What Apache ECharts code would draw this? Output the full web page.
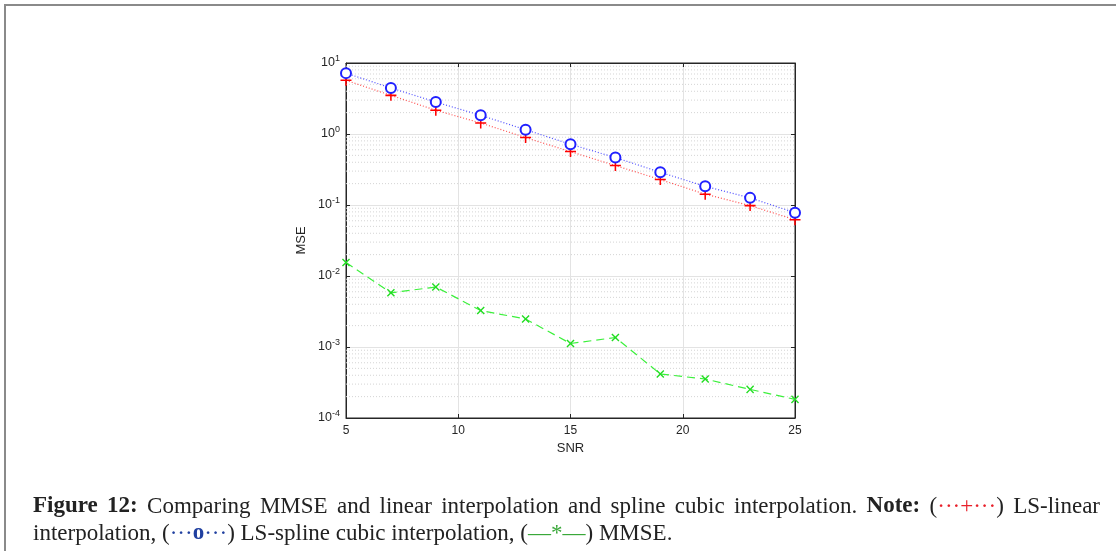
<!DOCTYPE html>
<html>
<head>
<meta charset="utf-8">
<script src="https://cdn.jsdelivr.net/npm/echarts@6/dist/echarts.min.js"></script>
<style>
  html, body { margin: 0; padding: 0; background: #fff; }
  #chart { width: 1116px; height: 551px; }
</style>
</head>
<body>
<div id="chart"></div>
<script>
// SNR values (x axis)
const snr = [5, 7, 9, 11, 13, 15, 17, 19, 21, 23, 25];
// LS-linear interpolation
const lsLinear = [5.7, 3.5, 2.16, 1.43, 0.89, 0.565, 0.359, 0.228, 0.142, 0.098, 0.062];
// LS-spline cubic interpolation
const lsSpline = [7.2, 4.45, 2.82, 1.83, 1.15, 0.716, 0.466, 0.289, 0.183, 0.126, 0.078];
// MMSE
const mmse = [0.0155, 0.0058, 0.0070, 0.00326, 0.00248, 0.00112, 0.00136, 0.000417, 0.000354, 0.000253, 0.000183];

const decades = [-4, -3, -2, -1, 0];

// minor grid values 2..9 x 10^k (log axis gridlines)
const minorVals = [];
decades.forEach(function (e) {
  for (let m = 2; m <= 9; m++) minorVals.push(m * Math.pow(10, e));
});

const pair = (xs, ys) => xs.map((x, i) => [x, ys[i]]);

const plusPath = 'path://M4.3,0H5.7V4.3H10V5.7H5.7V10H4.3V5.7H0V4.3H4.3Z';

const axisColor = '#262626';
const labelFont = 'Liberation Sans, Arial, sans-serif';
const serif = '"Liberation Serif", "Times New Roman", serif';
const capSize = 23;

// caption line 1 (justified), tokens made of styled parts
const caption1 = [
  [{ t: 'Figure', b: 1 }], [{ t: '12:', b: 1 }], [{ t: 'Comparing' }], [{ t: 'MMSE' }], [{ t: 'and' }],
  [{ t: 'linear' }], [{ t: 'interpolation' }], [{ t: 'and' }], [{ t: 'spline' }], [{ t: 'cubic' }],
  [{ t: 'interpolation.' }], [{ t: 'Note:', b: 1 }],
  [{ t: '(' }, { t: '\u00b7\u00b7\u00b7+\u00b7\u00b7\u00b7', c: '#e8202a' }, { t: ')' }], [{ t: 'LS-linear' }]
];
const caption2 = [
  { t: 'interpolation, (' },
  { t: '\u00b7\u00b7\u00b7', c: '#2040a0' }, { t: 'o', c: '#2040a0', b: 1 }, { t: '\u00b7\u00b7\u00b7', c: '#2040a0' },
  { t: ') LS-spline cubic interpolation, (' },
  { t: '\u2014', c: '#3aa83a' }, { t: '*', c: '#3aa83a' }, { t: '\u2014', c: '#3aa83a' },
  { t: ') MMSE.' }
];

const ctx = document.createElement('canvas').getContext('2d');
function partFont(p) { return (p.b ? 'bold ' : '') + capSize + 'px ' + serif; }
function measure(parts) {
  return parts.reduce((s, p) => { ctx.font = partFont(p); return s + ctx.measureText(p.t).width; }, 0);
}
function richOf(parts) {
  const rich = {};
  let text = '';
  parts.forEach((p, i) => {
    const key = 'p' + i;
    rich[key] = { fontSize: capSize, fontFamily: serif, fontWeight: p.b ? 'bold' : 'normal', fill: p.c || '#222' };
    text += '{' + key + '|' + p.t + '}';
  });
  return { text, rich };
}

const capLeft = 33, capRight = 1100;
const widths = caption1.map(measure);
const gap = (capRight - capLeft - widths.reduce((a, b) => a + b, 0)) / (caption1.length - 1);
const captionGraphics = [];
let cx = capLeft;
caption1.forEach((parts, i) => {
  const r = richOf(parts);
  captionGraphics.push({
    type: 'text', x: cx, y: 495, silent: true,
    style: { text: r.text, rich: r.rich, font: capSize + 'px ' + serif, fill: '#222' }
  });
  cx += widths[i] + gap;
});
const r2 = richOf(caption2);
captionGraphics.push({
  type: 'text', x: capLeft, y: 522, silent: true,
  style: { text: r2.text, rich: r2.rich, font: capSize + 'px ' + serif, fill: '#222' }
});

const gridSeries = minorVals.map(v => ({
  type: 'line', data: [[5, v], [25, v]], silent: true, symbol: 'none',
  lineStyle: { color: '#d4d4d4', type: [1, 2], width: 1 }, z: 1
}));

const chart = echarts.init(document.getElementById('chart'));

chart.setOption({
  animation: false,
  backgroundColor: '#fff',
  grid: {
    left: 346, right: 321, top: 63, bottom: 133,
    show: true, borderColor: axisColor, borderWidth: 1
  },
  xAxis: [
    {
      type: 'value', min: 5, max: 25, interval: 5,
      name: 'SNR', nameLocation: 'middle', nameGap: 22,
      nameTextStyle: { color: axisColor, fontSize: 13, fontFamily: labelFont },
      axisLine: { lineStyle: { color: axisColor } },
      axisTick: { inside: true, length: 4, lineStyle: { color: axisColor } },
      axisLabel: { color: axisColor, fontSize: 12, fontFamily: labelFont, margin: 7 },
      splitLine: { show: true, lineStyle: { color: '#e3e3e3', width: 1 } }
    },
    {
      type: 'value', min: 5, max: 25, interval: 5, position: 'top',
      axisLine: { show: true, lineStyle: { color: axisColor } },
      axisTick: { inside: true, length: 4, lineStyle: { color: axisColor } },
      axisLabel: { show: false },
      splitLine: { show: false }
    }
  ],
  yAxis: [
    {
      type: 'log', logBase: 10, min: 1e-4, max: 10,
      name: 'MSE', nameLocation: 'middle', nameGap: 38,
      nameTextStyle: { color: axisColor, fontSize: 13, fontFamily: labelFont },
      axisLine: { show: true, lineStyle: { color: axisColor } },
      axisTick: { show: true, inside: true, length: 4, lineStyle: { color: axisColor } },
      axisLabel: {
        color: axisColor, margin: 6,
        formatter: function (v) {
          const e = Math.round(Math.log10(v));
          return '{b|10}{s|' + e + '}';
        },
        rich: {
          b: { fontSize: 12.5, fontFamily: labelFont, color: axisColor },
          s: { fontSize: 9, fontFamily: labelFont, color: axisColor, verticalAlign: 'top', padding: [0, 0, 8, 0] }
        }
      },
      splitLine: { show: true, lineStyle: { color: '#e3e3e3', width: 1 } }
    },
    {
      type: 'log', logBase: 10, min: 1e-4, max: 10, position: 'right',
      axisLine: { show: true, lineStyle: { color: axisColor } },
      axisTick: { show: true, inside: true, length: 4, lineStyle: { color: axisColor } },
      axisLabel: { show: false },
      splitLine: { show: false }
    }
  ],
  series: gridSeries.concat([
    {
      name: 'LS-linear interpolation', type: 'line',
      data: pair(snr, lsLinear),
      lineStyle: { color: '#ff5050', type: [1, 2], width: 1.2 },
      symbol: plusPath, symbolSize: 11, showAllSymbol: true,
      itemStyle: { color: '#ff0000' },
      z: 3
    },
    {
      name: 'LS-spline cubic interpolation', type: 'line',
      data: pair(snr, lsSpline),
      lineStyle: { color: '#5050ff', type: [1, 2], width: 1.2 },
      symbol: 'emptyCircle', symbolSize: 10, showAllSymbol: true,
      itemStyle: { color: '#2020ff', borderColor: '#2020ff', borderWidth: 1.4 },
      z: 4
    },
    {
      name: 'MMSE', type: 'line',
      data: pair(snr, mmse),
      lineStyle: { color: '#3cf03c', type: [8, 5], width: 1.2 },
      symbol: plusPath, symbolRotate: 45, symbolSize: 10, showAllSymbol: true,
      itemStyle: { color: '#22dd22' },
      z: 3
    }
  ]),
  graphic: [
    {
      type: 'polyline', silent: true,
      shape: { points: [[5, 551], [5, 5], [1116, 5]] },
      style: { stroke: '#8a8a8a', lineWidth: 2, fill: null }
    }
  ].concat(captionGraphics)
});
</script>
</body>
</html>
